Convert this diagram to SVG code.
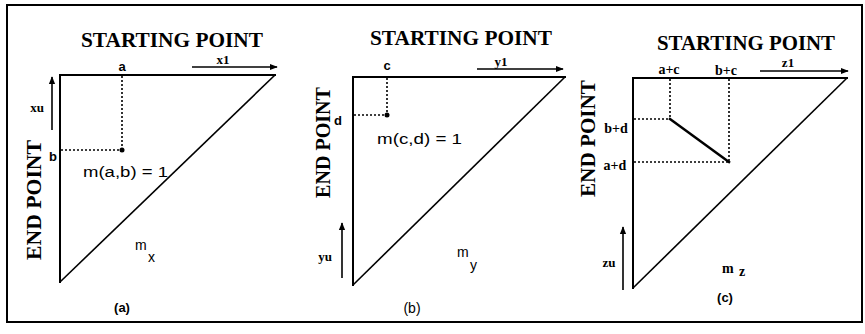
<svg xmlns="http://www.w3.org/2000/svg" width="865" height="334" viewBox="0 0 865 334">
<style>
.frame{fill:none;stroke:#000;stroke-width:2}
.edge{fill:none;stroke:#000;stroke-width:2;stroke-linecap:square}
.diag{fill:none;stroke:#000;stroke-width:1.6}
.dot{fill:none;stroke:#000;stroke-width:1.6;stroke-dasharray:2 2}
.arr{fill:none;stroke:#000;stroke-width:1.6}
.pt{fill:#000}
.title{font-family:"Liberation Serif",serif;font-weight:bold;font-size:21px}
.lab{font-family:"Liberation Serif",serif;font-weight:bold;font-size:14px}
.ax{font-family:"Liberation Serif",serif;font-weight:bold;font-size:13px}
.sans{font-family:"Liberation Sans",Arial,sans-serif;font-size:14px}
.sansb{font-family:"Liberation Sans",Arial,sans-serif;font-weight:bold;font-size:13px}
</style>
<defs>
<marker id="ah" viewBox="0 0 10 10" refX="9" refY="5" markerWidth="5" markerHeight="5" orient="auto" markerUnits="strokeWidth">
<path d="M0,1 L10,5 L0,9 Z" fill="#000"/>
</marker>
</defs>
<rect class="frame" x="7" y="5" width="855" height="317"/>

<g id="panel-a">
<path class="edge" d="M60,282 L60,75 L275,75"/>
<path class="diag" d="M275,75 L60,282"/>
<text class="title" x="81" y="47" textLength="182" lengthAdjust="spacingAndGlyphs">STARTING POINT</text>
<text class="title" transform="translate(41,260) rotate(-90)" textLength="120" lengthAdjust="spacingAndGlyphs">END POINT</text>
<text class="sansb" x="122" y="71" text-anchor="middle">a</text>
<text class="sansb" x="53" y="161" text-anchor="middle">b</text>
<path class="dot" d="M122,76 L122,150 M61,150 L122,150"/>
<circle class="pt" cx="122" cy="150" r="2.5"/>
<text class="ax" x="223" y="64" text-anchor="middle">x1</text>
<path class="arr" d="M192,67 L277,67" marker-end="url(#ah)"/>
<text class="ax" x="37" y="112" text-anchor="middle">xu</text>
<path class="arr" d="M52,130 L52,77" marker-end="url(#ah)"/>
<text class="sans" x="83" y="177" textLength="85" lengthAdjust="spacingAndGlyphs">m(a,b) = 1</text>
<text class="sans" x="135" y="250" font-size="15">m</text>
<text class="sans" x="148" y="262" font-size="11">x</text>
<text class="sansb" x="122" y="312" text-anchor="middle">(a)</text>
</g>

<g id="panel-b">
<path class="edge" d="M353,285 L353,77 L565,77"/>
<path class="diag" d="M565,77 L353,285"/>
<text class="title" x="370" y="45" textLength="182" lengthAdjust="spacingAndGlyphs">STARTING POINT</text>
<text class="title" transform="translate(330,198) rotate(-90)" textLength="111" lengthAdjust="spacingAndGlyphs">END POINT</text>
<text class="sansb" x="387" y="70" text-anchor="middle">c</text>
<text class="sansb" x="338" y="125" text-anchor="middle">d</text>
<path class="dot" d="M387,78 L387,115 M354,115 L387,115"/>
<circle class="pt" cx="387" cy="115" r="2.5"/>
<text class="ax" x="501" y="66" text-anchor="middle">y1</text>
<path class="arr" d="M477,69 L563,69" marker-end="url(#ah)"/>
<text class="ax" x="325" y="261" text-anchor="middle">yu</text>
<path class="arr" d="M342,278 L342,223" marker-end="url(#ah)"/>
<text class="sans" x="377" y="144" textLength="85" lengthAdjust="spacingAndGlyphs">m(c,d) = 1</text>
<text class="sans" x="457" y="257" font-size="15">m</text>
<text class="sans" x="470" y="270" font-size="11">y</text>
<text class="sans" x="412" y="313" text-anchor="middle">(b)</text>
</g>

<g id="panel-c">
<path class="edge" d="M633,288 L633,78 L847,78"/>
<path class="diag" d="M847,78 L633,288"/>
<text class="title" x="657" y="50" textLength="178" lengthAdjust="spacingAndGlyphs">STARTING POINT</text>
<text class="title" transform="translate(595,197) rotate(-90)" textLength="117" lengthAdjust="spacingAndGlyphs">END POINT</text>
<text class="lab" x="669" y="74" text-anchor="middle">a+c</text>
<text class="lab" x="726" y="75" text-anchor="middle">b+c</text>
<text class="lab" x="616" y="133" text-anchor="middle">b+d</text>
<text class="lab" x="615" y="170" text-anchor="middle">a+d</text>
<path class="dot" d="M670,79 L670,119 M634,119 L670,119 M729,79 L729,162 M634,162 L729,162"/>
<path class="edge" style="stroke-width:2.5" d="M670,119 L729,162"/>
<text class="ax" x="788" y="67" text-anchor="middle">z1</text>
<path class="arr" d="M760,71 L848,71" marker-end="url(#ah)"/>
<text class="ax" x="609" y="267" text-anchor="middle">zu</text>
<path class="arr" d="M623,290 L623,227" marker-end="url(#ah)"/>
<text class="lab" x="722" y="273" font-size="17">m</text>
<text class="lab" x="739" y="276" font-size="12">z</text>
<text class="sansb" x="725" y="302" text-anchor="middle">(c)</text>
</g>
</svg>
